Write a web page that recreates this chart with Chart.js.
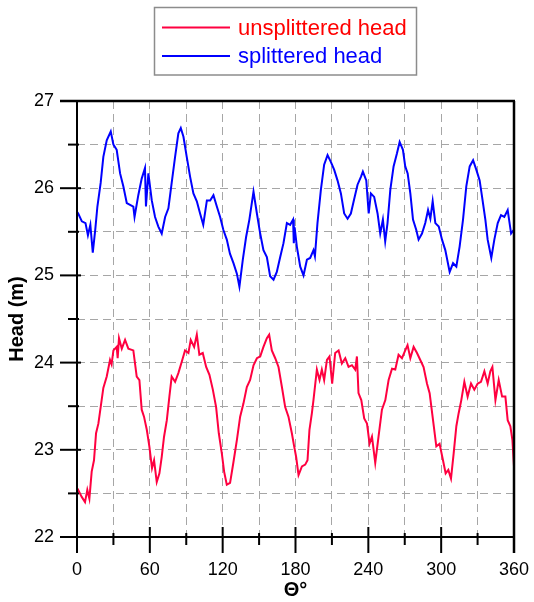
<!DOCTYPE html>
<html>
<head>
<meta charset="utf-8">
<script src="https://cdn.jsdelivr.net/npm/chart.js@4.4.0/dist/chart.umd.min.js"></script>
<style>
    html, body { margin: 0; padding: 0; background: #fff; }
</style>
</head>
<body>
<canvas id="chart" width="534" height="602"></canvas>
<script>
// theta (deg) and head (m)
var thetaUnsplit = [0, 1, 3.9, 6.6, 8.5, 10.2, 12.1, 14, 15.7, 17.6, 19.5, 21.7, 24.5, 27.2, 28.5, 30, 32.7, 33.5, 34.6, 36.9,
    39.6, 42.3, 46.4, 49.2, 51.4, 53.3, 55.2, 57.5, 59.6, 61.8, 63.5, 65.7, 67.9, 69.8, 71.7, 74, 76.1, 78, 80.8, 83.5,
    86.3, 89, 91.8, 93.7, 96.5, 98.7, 100.8, 103.6, 106.4, 109.1, 111.9, 114.6, 116.8, 119.3, 121.2, 123.4, 126.1, 128.9, 131.7, 134.4,
    137.1, 139.9, 142.6, 145.4, 148.2, 150.9, 153.6, 156.4, 158.3, 160.5, 163.3, 166, 168.8, 171.5, 174.2, 177, 178.9, 180.5, 182.5, 185.3,
    188, 189.9, 191.5, 193.5, 194.8, 197.6, 199.8, 201.7, 203.6, 205.9, 208, 210.2, 212.7, 215.5, 218.2, 221, 223.7, 226.5, 229.2, 230.6,
    231.9, 234.2, 236.6, 238.9, 241, 243, 245.7, 248.4, 251.2, 254, 256.7, 259.5, 262.2, 264.9, 267.7, 270.4, 272.3, 274.6, 277.3, 280.1,
    282.8, 285.5, 288.3, 290.5, 293.3, 296, 298.7, 301.5, 303.7, 305.9, 308.1, 310.3, 312.5, 314.4, 316.6, 319.1, 321.8, 324.6, 327.3, 330.1,
    332.8, 335.6, 338.3, 340.5, 342.2, 344.7, 347.4, 350.2, 352.9, 354.8, 357, 358.7, 360];
var headUnsplit = [22.52, 22.54, 22.46, 22.40, 22.54, 22.44, 22.75, 22.88, 23.19, 23.30, 23.49, 23.71, 23.84, 24.03, 23.98, 24.14, 24.18, 24.05, 24.28, 24.16,
    24.26, 24.16, 24.14, 23.84, 23.80, 23.46, 23.38, 23.23, 23.04, 22.79, 22.88, 22.63, 22.73, 22.92, 23.15, 23.34, 23.61, 23.84, 23.78, 23.88,
    24.01, 24.14, 24.11, 24.26, 24.18, 24.32, 24.09, 24.11, 23.95, 23.86, 23.69, 23.49, 23.19, 22.96, 22.75, 22.60, 22.62, 22.86, 23.11, 23.38,
    23.53, 23.72, 23.80, 23.97, 24.05, 24.07, 24.18, 24.28, 24.32, 24.14, 24.05, 23.95, 23.72, 23.49, 23.38, 23.19, 23.04, 22.92, 22.71, 22.81,
    22.83, 22.88, 23.23, 23.42, 23.57, 23.92, 23.80, 23.92, 23.80, 24.03, 24.07, 23.76, 24.11, 24.14, 23.99, 24.05, 23.95, 23.97, 23.92, 24.07,
    23.65, 23.57, 23.36, 23.30, 23.07, 23.15, 22.85, 23.15, 23.46, 23.57, 23.80, 23.93, 23.92, 24.09, 24.05, 24.14, 24.20, 24.05, 24.18, 24.11,
    24.03, 23.95, 23.76, 23.65, 23.34, 23.04, 23.07, 22.88, 22.73, 22.77, 22.67, 22.96, 23.27, 23.42, 23.57, 23.78, 23.61, 23.76, 23.69, 23.76,
    23.78, 23.90, 23.76, 23.90, 23.95, 23.57, 23.80, 23.61, 23.61, 23.34, 23.27, 23.11, 22.81];

var thetaSplit = [0, 1, 4, 7, 9, 11, 13, 15, 16.8, 19.5, 21.7, 24.5, 27.8, 30, 32.7, 35.5, 38.2, 41, 43.7, 46.4,
    47.4, 50.5, 53.3, 56, 56.8, 58.8, 61.6, 64.3, 67, 69.8, 72.6, 75.3, 78, 80.8, 83.5, 85.5, 87.7, 90.4, 93.2, 95.9,
    98.7, 101.4, 104, 107, 109.7, 112.4, 115.2, 117.9, 120.6, 123.4, 126, 128.9, 131.7, 133.8, 136.6, 139.3, 142, 145.4, 148.2, 150.9,
    153.6, 156.4, 159.1, 161.9, 164.6, 167.4, 170.1, 172.9, 175.6, 178, 178.6, 179.3, 181.1, 183.9, 186.6, 189.4, 192.1, 194.8, 196, 198.1,
    200.9, 203.6, 206.4, 209.2, 211.9, 214.6, 217.4, 220.1, 222.9, 225.6, 228.4, 231.1, 233.9, 235.5, 238.3, 240.3, 242.1, 244.8, 247.6, 249.8,
    252, 253.9, 255.8, 258.1, 260.8, 263.6, 265.8, 268.5, 270.4, 272.4, 274.6, 276.8, 279.5, 281.4, 284.2, 286.9, 289.2, 291.1, 293, 295.2,
    298, 300.7, 303.4, 307, 309.8, 312.5, 315.2, 318, 320.7, 323.5, 326.3, 329, 331.7, 333.7, 336.4, 338.3, 341.3, 343.8, 346.6, 349.3,
    352, 354.8, 357.6, 359.7];
var headSplit = [25.73, 25.71, 25.62, 25.60, 25.46, 25.58, 25.26, 25.52, 25.79, 26.06, 26.36, 26.55, 26.65, 26.50, 26.44, 26.17, 26.02, 25.83, 25.81, 25.79,
    25.67, 25.92, 26.11, 26.23, 25.79, 26.17, 25.86, 25.67, 25.56, 25.48, 25.67, 25.77, 26.06, 26.36, 26.63, 26.69, 26.59, 26.36, 26.13, 25.94,
    25.85, 25.71, 25.58, 25.86, 25.86, 25.92, 25.79, 25.67, 25.52, 25.41, 25.25, 25.14, 25.02, 24.87, 25.18, 25.44, 25.64, 25.96, 25.71, 25.48,
    25.29, 25.21, 24.99, 24.95, 25.04, 25.21, 25.37, 25.60, 25.58, 25.64, 25.37, 25.55, 25.33, 25.10, 25.00, 25.18, 25.20, 25.29, 25.22, 25.60,
    25.98, 26.27, 26.38, 26.30, 26.21, 26.09, 25.94, 25.71, 25.65, 25.71, 25.88, 26.04, 26.13, 26.19, 26.09, 25.71, 25.94, 25.90, 25.71, 25.48,
    25.64, 25.39, 25.60, 25.98, 26.25, 26.40, 26.53, 26.44, 26.25, 26.17, 25.94, 25.64, 25.52, 25.41, 25.48, 25.60, 25.75, 25.65, 25.85, 25.60,
    25.56, 25.41, 25.29, 25.04, 25.14, 25.10, 25.33, 25.64, 26.02, 26.25, 26.32, 26.21, 26.09, 25.90, 25.64, 25.41, 25.20, 25.41, 25.60, 25.69,
    25.67, 25.75, 25.48, 25.52];

var xMajor = [0, 60, 120, 180, 240, 300, 360];
var xMinor = [30, 90, 150, 210, 270, 330];
var yMajor = [22, 23, 24, 25, 26, 27];
var yMinor = [22.5, 23.5, 24.5, 25.5, 26.5];

var FONT = "'Liberation Sans', Arial, sans-serif";

function pts(xs, ys) {
    return xs.map(function(v, i) { return {x: v, y: ys[i]}; });
}

function seg(ctx, x1, y1, x2, y2) {
    ctx.beginPath();
    ctx.moveTo(x1, y1);
    ctx.lineTo(x2, y2);
    ctx.stroke();
}

// axis lines, frame and in/out tick marks
var axisFrame = {
    id: 'axisFrame',
    afterDraw: function(chart) {
        var ctx = chart.ctx, a = chart.chartArea;
        var x = chart.scales.x, y = chart.scales.y;
        ctx.save();
        ctx.strokeStyle = '#000';
        ctx.lineWidth = 2;
        seg(ctx, a.left, a.top, a.left, a.bottom);
        seg(ctx, a.left - 17, a.bottom, a.right, a.bottom);
        ctx.lineWidth = 2.5;
        seg(ctx, a.left - 17, a.top, a.right + 1, a.top);
        seg(ctx, a.right, a.top, a.right, a.bottom + 16);
        ctx.lineWidth = 2;
        xMajor.forEach(function(v) {
            var px = x.getPixelForValue(v);
            seg(ctx, px, a.bottom - 10, px, a.bottom + 16);
        });
        xMinor.forEach(function(v) {
            var px = x.getPixelForValue(v);
            seg(ctx, px, a.bottom - 4, px, a.bottom + 8);
        });
        yMajor.forEach(function(v) {
            var py = y.getPixelForValue(v);
            seg(ctx, a.left - 17, py, a.left + 4, py);
        });
        yMinor.forEach(function(v) {
            var py = y.getPixelForValue(v);
            seg(ctx, a.left - 9, py, a.left + 2, py);
        });
        ctx.restore();
    }
};

// boxed legend above the plot
var boxLegend = {
    id: 'boxLegend',
    afterDraw: function(chart) {
        var ctx = chart.ctx;
        ctx.save();
        ctx.strokeStyle = '#8c8c8c';
        ctx.lineWidth = 1.5;
        ctx.strokeRect(154.5, 7.5, 262, 67.5);
        ctx.font = '22px ' + FONT;
        ctx.textBaseline = 'middle';
        chart.data.datasets.forEach(function(ds, i) {
            var yy = 27.5 + i * 28.5;
            ctx.strokeStyle = ds.borderColor;
            ctx.lineWidth = 2;
            seg(ctx, 162, yy, 230, yy);
            ctx.fillStyle = ds.textColor;
            ctx.fillText(ds.label, 238, yy + 1);
        });
        ctx.restore();
    }
};

var ctx = document.getElementById('chart').getContext('2d');
var chart = new Chart(ctx, {
    type: 'line',
    data: {
        datasets: [{
            label: 'unsplittered head',
            data: pts(thetaUnsplit, headUnsplit),
            borderColor: '#ff0040',
            textColor: '#ff0000',
            borderWidth: 2,
            pointRadius: 0,
            tension: 0,
            fill: false
        }, {
            label: 'splittered head',
            data: pts(thetaSplit, headSplit),
            borderColor: '#0000ff',
            textColor: '#0000ff',
            borderWidth: 2,
            pointRadius: 0,
            tension: 0,
            fill: false
        }]
    },
    options: {
        responsive: false,
        animation: false,
        layout: {padding: {top: 101, right: 20, left: 0, bottom: 0}},
        plugins: {
            legend: {display: false},
            tooltip: {enabled: false}
        },
        scales: {
            x: {
                type: 'linear',
                min: 0,
                max: 360,
                afterFit: function(s) {
                    s.height = 65;
                    s.paddingLeft = 0;
                    s.paddingRight = 0;
                },
                grid: {color: '#a6a6a6', lineWidth: 1, drawTicks: false},
                border: {display: false, dash: [8, 5]},
                ticks: {
                    stepSize: 30,
                    padding: 22,
                    color: '#000',
                    maxRotation: 0,
                    autoSkip: false,
                    font: {family: FONT, size: 18},
                    callback: function(v) { return xMajor.indexOf(v) >= 0 ? v : ''; }
                },
                title: {display: true, text: 'Θ°', color: '#000', padding: 0,
                    font: {family: FONT, size: 20, weight: 'bold'}}
            },
            y: {
                min: 22,
                max: 27,
                afterFit: function(s) {
                    s.width = 77;
                    s.paddingTop = 0;
                    s.paddingBottom = 0;
                },
                grid: {color: '#a6a6a6', lineWidth: 1, drawTicks: false},
                border: {display: false, dash: [8, 5]},
                ticks: {
                    stepSize: 0.5,
                    padding: 23,
                    color: '#000',
                    autoSkip: false,
                    font: {family: FONT, size: 18},
                    callback: function(v) { return yMajor.indexOf(v) >= 0 ? v : ''; }
                },
                title: {display: true, text: 'Head (m)', color: '#000', padding: {top: 5, bottom: 0},
                    font: {family: FONT, size: 20, weight: 'bold'}}
            }
        }
    },
    plugins: [axisFrame, boxLegend]
});
</script>
</body>
</html>
